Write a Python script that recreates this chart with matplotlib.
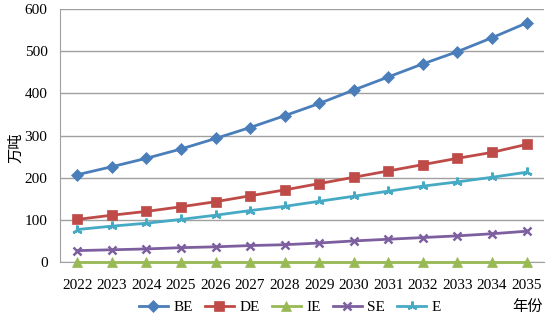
import matplotlib; matplotlib.use("Agg")
import matplotlib.pyplot as plt
import numpy as np

years = [str(y) for y in range(2022, 2036)]
BE = [207, 226, 246, 268, 293, 319, 347, 376, 408, 439, 470, 499, 532, 567]
DE = [101, 111, 120, 131, 143, 157, 171, 186, 201, 216, 231, 246, 260, 279]
IE = [0] * 14
SE = [27, 29, 31, 34, 36, 39, 41, 45, 50, 54, 58, 62, 67, 73]
E = [77, 85, 92, 101, 111, 122, 132, 144, 156, 168, 180, 190, 201, 213]
series = ['BE', 'DE', 'IE', 'SE', 'E']
values = [BE, DE, IE, SE, E]

colors = ['#4a7ebb', '#be4b48', '#98b954', '#7d5fa0', '#46aac5']
markers = ['D', 's', '^', 'x', (3, 2, 0)]
sizes = [6, 7.5, 7, 6, 7]

plt.rcParams.update({'font.family': ['Liberation Serif', 'Noto Sans CJK SC'], 'font.size': 11})
fig = plt.figure(figsize=(5.48, 3.21), dpi=100)
ax = fig.add_axes([0.1095, 0.1838, 0.883, 0.788])
x = np.arange(len(years))
for name, v, c, m, s in zip(series, values, colors, markers, sizes):
    ax.plot(x, v, color=c, lw=2, marker=m, ms=s, mew=1.8 if m in ('x', (3, 2, 0)) else 0.5,
            mec=c, label=name, zorder=3, clip_on=False)

ax.set_xlim(-0.5, len(years) - 0.5)
ax.set_ylim(0, 600)
ax.set_yticks(range(0, 601, 100))
ax.set_xticks(x)
ax.set_xticklabels(years)
ax.grid(axis='y', color='#a0a0a0', lw=1)
ax.set_axisbelow(True)
for s in ('top', 'right'):
    ax.spines[s].set_visible(False)
ax.spines['left'].set_color('#a0a0a0')
ax.spines['bottom'].set_color('#a0a0a0')
ax.tick_params(length=0)
ax.tick_params(axis='y', pad=9)
ax.tick_params(axis='x', pad=12)
ax.set_ylabel('万吨', fontsize=11)
ax.yaxis.set_label_coords(-0.075, 0.45)
fig.text(0.962, 0.045, '年份', ha='center', va='center', fontsize=11)
ax.legend(loc='center', bbox_to_anchor=(0.475, -0.18), ncol=5, frameon=False,
          handlelength=1.9, columnspacing=0.8, handletextpad=0.35, fontsize=11)
fig.savefig('out.png', dpi=100)
